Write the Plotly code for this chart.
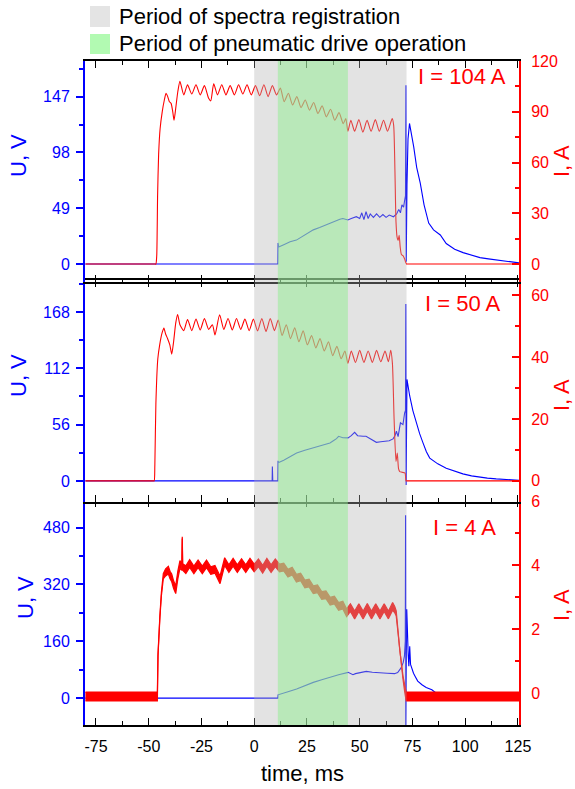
import plotly.graph_objects as go

FONT = "Liberation Sans, Arial, sans-serif"
BLUE = "#0000ff"
RED = "#ff0000"

# ---------------- data ----------------
x_range = [-80.2, 125.5]
x_tickvals = [-75, -50, -25, 0, 25, 50, 75, 100, 125]
x_ticktext = ["-75", "-50", "-25", "0", "25", "50", "75", "100", "125"]

spectra_period = [0, 72.2]      # grey band, ms
drive_period = [11.2, 44.4]     # green band, ms

legend_labels = ["Period of spectra registration", "Period of pneumatic drive operation"]
panel_labels = ["I = 104 A", "I = 50 A", "I = 4 A"]

# Panel 1 (I = 104 A)
t1_U = [-80, 11.2, 11.3, 11.6, 14, 17, 20, 23, 26, 28, 31, 34, 36, 38, 40.6, 42, 44.4, 46, 48.4,
        50, 51, 52, 53, 54, 55, 56.5, 58, 59.5, 61, 62.5, 64, 66, 67.5, 68.5, 69.3, 70, 70.8,
        71.3, 71.7, 71.9, 72.05, 72.4, 72.9, 73.6, 74.5, 75.6, 77, 78.7, 80.5, 82.7, 85, 88.2,
        91, 95, 99, 103, 107, 111, 115, 120, 125.5]
U1 = [0, 0, 18.5, 15, 17, 19.5, 21, 24.5, 28, 30, 32, 34.5, 36, 37.5, 39.3, 40, 38.7, 40, 41.6,
      40, 45, 39, 46, 40, 44, 41, 44, 41, 43.5, 41, 43, 41.5, 44, 48, 45, 52, 50,
      56, 60, 157, 2, 70, 110, 123.5, 115, 103, 85, 71, 52, 36, 30, 25.5,
      18, 13, 10, 7.5, 5.6, 4.5, 3.5, 2, 1]
t1_I = [-80, -47.0, -46.6, -46.2, -45.8, -45.3, -44.6, -43.6, -42.6, -41.8, -41, -40.2, -39.4,
        -38.6, -38, -37.2, -36.2, -35.2, -33.4, -31.6, -29.6, -27.6, -25.6, -23.6, -21.6, -20.6,
        -19.2, -17.4, -15.4, -13.4, -11.4, -9.4, -7.4, -5.4, -3.4, -1.4, 0.6, 2.6, 4.6, 6.6, 8.6,
        10.6, 12.4, 14.2, 16.2, 18.2, 20.2, 22.2, 24.2, 26.2, 28.2, 30.2, 32.2, 34.2, 36.2, 38.2,
        40.2, 42.2, 43.4, 44.4, 45.8, 47.6, 49.6, 51.5, 53.5, 55.4, 57.4, 59.3, 61.3, 63.2, 65.4,
        66.1, 66.7, 67.2, 67.7, 68.2, 68.7, 69.2, 69.8, 70.5, 71.3, 71.8, 72.2, 72.6, 125.5]
I1 = [0, 0, 0, 5, 40, 65, 80, 90, 97, 101, 99, 96, 95,
      90, 85, 92, 102, 108, 100, 106, 100.5, 106, 100, 105.5, 98, 96.5,
      106.5, 100, 106, 100, 105.5, 100, 106, 100.5, 106, 100, 105.5, 99.5, 106, 99, 105.5,
      100, 104, 96, 101, 94, 99, 92.5, 97, 91, 95.5, 89, 93.5, 87, 91.5, 85,
      89.5, 83, 86, 78.5, 85, 78.5, 85.5, 78, 85, 78.5, 85.5, 78.5, 85, 78.5, 86,
      82, 55, 25, 16, 14, 17, 10, 5.5, 5, 3, 1, 0, 0, 0]

# Panel 2 (I = 50 A)
t2_U = [-80, 8.5, 8.6, 8.8, 11.2, 11.3, 11.6, 14, 17, 20.1, 24, 28, 32, 35.9, 37.5, 39, 40, 42,
        44.5, 46, 47.6, 49, 51.6, 53, 55, 57.9, 60, 62.6, 64, 65.8, 66.7, 67.4, 68.2, 69.3, 70.5,
        71.3, 71.7, 71.85, 72.0, 72.4, 73, 73.7, 75.2, 76.8, 78.4, 80, 81.6, 83.2, 87, 91, 95,
        98.9, 103, 106.8, 110.5, 114.7, 119, 125.5]
U2 = [0, 0, 14.3, 0, 0, 20, 18.3, 20.5, 24, 27.7, 30.5, 32.7, 35.5, 37.8, 40, 42, 44.4, 43,
      42.8, 45, 48.4, 45, 44.4, 44.5, 42, 38.4, 39, 39.4, 40, 41.8, 45, 49.4, 44, 57.8, 56,
      67.8, 70, 176, -4, 101, 92, 84.5, 70, 57.8, 47, 37.8, 29, 22.7, 17, 12.7, 9.5,
      7, 5, 3.7, 2.8, 2, 1.2, 0.6]
t2_I = [-80, -47.8, -47.4, -47.1, -46.6, -45.7, -44.8, -43.6, -42.8, -42, -41, -40, -39.1, -38.2,
        -37.2, -36.3, -35.2, -33.4, -31.6, -29.6, -27.6, -25.6, -23.6, -21.6, -19.8, -18.6, -16.4,
        -14.4, -12.4, -10.4, -8.4, -6.4, -4.4, -2.4, -0.4, 1.6, 3.6, 5.6, 7.6, 9.6, 11.4, 13.2,
        15.2, 17.2, 19.2, 21.2, 23.2, 25.2, 27.2, 29.2, 31.2, 33.2, 35.2, 37.2, 39.2, 41.2, 43,
        44.4, 46, 48, 50, 52, 54, 56, 58, 60, 62, 63.6, 64.7, 65.5, 66.3, 67.2, 67.8, 68.4, 69,
        70, 71.5, 71.9, 72.3, 125.5]
I2 = [0, 0, 0, 5, 25, 39.4, 44, 48, 49.4, 47.5, 45.9, 44, 41, 45,
      51, 53.8, 50.5, 48.6, 52.2, 48.6, 52.3, 48.8, 52.5, 49, 50.5, 47.2, 53.7,
      49, 52.5, 48.8, 52.5, 49, 52.3, 48.6, 52.3, 48.5, 52.5, 48.3, 52.5, 48.6, 52, 47,
      50.5, 46, 49.5, 45, 48.5, 44, 47, 43, 46, 42, 45, 40.5, 43.5, 39.5, 42,
      38, 42, 38.3, 42.2, 38.3, 42, 38.3, 42.2, 38.5, 42, 38.5, 42.2, 38, 20, 6.3, 9, 4, 3,
      2.8, 2.5, 0, 0, 0]

# Panel 3 (I = 4 A)
t3_U = [-80, 11.2, 11.3, 12.2, 16, 20.1, 24, 28, 32, 35.9, 40, 44.5, 45.5, 46.8, 48, 50, 53.1,
        56, 59.4, 63, 66.5, 68, 69.6, 70.6, 71.2, 71.6, 71.75, 71.85, 72.0, 72.3, 72.6, 73.0,
        73.3, 73.7, 74.1, 74.8, 75.5, 76.3, 77.5, 79.5, 81.5, 84.2, 86, 88.9, 92, 96, 125.5]
U3 = [0, 0, 9.4, 11.3, 18, 25.5, 35, 44.3, 52, 59.5, 66, 72.6, 70, 66, 69, 72, 75.4,
      73, 70.9, 70, 68.9, 72, 85, 100, 118, 160, 515, -90, 40, 250, 165, 120,
      89.6, 146, 95, 80, 70, 61, 48, 37.7, 30, 23.5, 15, 8, 3, 1, 0]
t3_I = [-80, -45.9, -45.6, -45.2, -44.7, -44, -43.1, -42, -40.7, -39.9, -39.1, -38.2, -37.2, -36.2,
        -35.2, -34.3, -34.1, -33.9, -32.4, -30.6, -28.6, -26.6, -24.6, -22.6, -20.6, -18.6, -16.2,
        -14, -12, -10, -8, -6, -4, -2, 0, 2, 4, 6, 8, 10, 12, 14, 16, 18, 20, 22, 24, 26, 28,
        30, 32, 34, 36, 38, 40, 42, 43.8, 45.6, 47.6, 49.6, 51.6, 53.6, 55.6, 57.6, 59.6, 61.6,
        63.6, 65.6, 66.6, 67.3, 69, 70.5, 71.2, 72, 125.5]
I3 = [-0.1, -0.1, 1.2, 2.0, 2.4, 3.1, 3.66, 3.78, 3.85, 3.7, 3.61, 3.4, 3.24, 3.7,
      4.03, 3.95, 4.87, 3.95, 3.87, 4.06, 3.86, 4.05, 3.86, 4.05, 3.84, 3.88, 3.55,
      4.12, 3.9, 4.1, 3.9, 4.09, 3.9, 4.1, 3.92, 4.08, 3.88, 4.1, 3.9, 4.08, 3.92, 3.95, 3.76,
      3.82, 3.6, 3.64, 3.42, 3.45, 3.24, 3.27, 3.06, 3.08, 2.88, 2.92, 2.72, 2.76, 2.52, 2.68,
      2.45, 2.68, 2.45, 2.69, 2.45, 2.68, 2.45, 2.68, 2.45, 2.72, 2.62, 2.5, 1.3, 0.5, 0.19, -0.1,
      -0.1]
I3_noise = [0.14, 0.14, 0.03, 0.03, 0.04, 0.05, 0.08, 0.11, 0.12, 0.12, 0.12, 0.12, 0.12, 0.12,
            0.12, 0.1, 0.03, 0.1, 0.12, 0.12, 0.12, 0.12, 0.12, 0.12, 0.12, 0.12, 0.12,
            0.12, 0.12, 0.12, 0.12, 0.12, 0.12, 0.12, 0.12, 0.12, 0.12, 0.12, 0.12, 0.12, 0.12,
            0.12, 0.12, 0.12, 0.12, 0.12, 0.12, 0.12, 0.12, 0.12, 0.12, 0.12, 0.12, 0.12, 0.12,
            0.12, 0.12, 0.12, 0.12, 0.12, 0.12, 0.12, 0.12, 0.12, 0.12, 0.12, 0.12, 0.12, 0.1,
            0.08, 0.05, 0.05, 0.08, 0.14, 0.14]

U_ticks = [[0, 49, 98, 147], [0, 56, 112, 168], [0, 160, 320, 480]]
U_minor = [24.5, 28, 80]
U_ranges = [[-15.8, 178.4], [-21.0, 199.4], [-75.7, 556.5]]
I_ticks = [[0, 30, 60, 90, 120], [0, 20, 40, 60], [0, 2, 4, 6]]
I_minor = [15, 10, 1]
I_ranges = [[-10.6, 120.05], [-6.84, 64.8], [-0.99, 6.03]]

# ---------------- figure ----------------
W, H = 575, 789
ML, MR, MT, MB = 85, 56, 61, 64
PW, PH = W - ML - MR, H - MT - MB
XLW = 1.5  # frame line width of the time axes


def px(xp):
    return (xp - ML) / PW


def py(yp):
    return (H - MB - yp) / PH


ov = XLW / PH  # overlap so the shared frame lines of adjacent panels coincide
domains = [[0.6672, 1.0], [0.3358, 0.6672 + ov], [0.0, 0.3358 + ov]]
names = [("x3", "y5", "y6"), ("x2", "y3", "y4"), ("x", "y", "y2")]

fig = go.Figure()
series = [(t1_U, U1, t1_I, I1), (t2_U, U2, t2_I, I2)]
for k, (tu, u, ti, i) in enumerate(series):
    xa, yl, yr = names[k]
    fig.add_trace(go.Scatter(x=tu, y=u, mode="lines", line=dict(color=BLUE, width=1.1),
                             xaxis=xa, yaxis=yl, showlegend=False))
    fig.add_trace(go.Scatter(x=ti, y=i, mode="lines",
                             line=dict(color=RED, width=1.1, shape="spline", smoothing=0.6),
                             xaxis=xa, yaxis=yr, showlegend=False))

# panel 3: blue U, red I drawn as a noisy band
xa, yl, yr = names[2]
fig.add_trace(go.Scatter(x=t3_U, y=U3, mode="lines", line=dict(color=BLUE, width=1.1),
                         xaxis=xa, yaxis=yl, showlegend=False))
I3_lo = [a - b for a, b in zip(I3, I3_noise)]
I3_hi = [a + b for a, b in zip(I3, I3_noise)]
fig.add_trace(go.Scatter(x=t3_I, y=I3_lo, mode="lines", line=dict(color=RED, width=1.2),
                         xaxis=xa, yaxis=yr, showlegend=False))
fig.add_trace(go.Scatter(x=t3_I, y=I3_hi, mode="lines", line=dict(color=RED, width=1.2),
                         fill="tonexty", fillcolor=RED, xaxis=xa, yaxis=yr, showlegend=False))

layout = dict(width=W, height=H, margin=dict(l=ML, r=MR, t=MT, b=MB),
              paper_bgcolor="white", plot_bgcolor="white", showlegend=False,
              font=dict(family=FONT, size=16, color="black"))

for k in range(3):
    xa, yl, yr = names[k]
    xkey = "xaxis" if xa == "x" else "xaxis" + xa[1:]
    ylkey = "yaxis" if yl == "y" else "yaxis" + yl[1:]
    yrkey = "yaxis" + yr[1:]
    layout[xkey] = dict(domain=[0, 1], range=x_range, anchor=yl, showline=True, linecolor="black",
                        linewidth=XLW, mirror="ticks", ticks="inside", ticklen=7, tickwidth=1.3,
                        tickcolor="black", tickmode="array", tickvals=x_tickvals, ticktext=x_ticktext,
                        showticklabels=(k == 2), showgrid=False, zeroline=False,
                        tickfont=dict(size=16, color="black", family=FONT), ticklabelstandoff=6,
                        minor=dict(tickmode="linear", tick0=0, dtick=12.5, ticks="inside", ticklen=4,
                                   tickwidth=1.3, tickcolor="black", showgrid=False))
    layout[ylkey] = dict(domain=domains[k], range=U_ranges[k], anchor=xa, showline=True,
                         linecolor=BLUE, linewidth=2, ticks="outside", ticklen=7, tickwidth=1.5,
                         tickcolor=BLUE, tickmode="array", tickvals=U_ticks[k], showgrid=False,
                         zeroline=False, tickfont=dict(size=16, color=BLUE, family=FONT),
                         ticklabelstandoff=3,
                         minor=dict(tickmode="linear", tick0=0, dtick=U_minor[k], ticks="outside",
                                    ticklen=4, tickwidth=1.5, tickcolor=BLUE, showgrid=False))
    layout[yrkey] = dict(range=I_ranges[k], anchor=xa, overlaying=yl, side="right", showline=True,
                         linecolor=RED, linewidth=2, ticks="inside", ticklen=7, tickwidth=1.5,
                         tickcolor=RED, tickmode="array", tickvals=I_ticks[k], showgrid=False,
                         zeroline=False, tickfont=dict(size=16, color=RED, family=FONT),
                         ticklabelstandoff=7,
                         minor=dict(tickmode="linear", tick0=0, dtick=I_minor[k], ticks="inside",
                                    ticklen=4, tickwidth=1.5, tickcolor=RED, showgrid=False))

fig.update_layout(**layout)

shapes = [
    dict(type="rect", xref="x", yref="paper", x0=spectra_period[0], x1=spectra_period[1], y0=0, y1=1,
         fillcolor="rgb(180,180,180)", opacity=0.37, line=dict(width=0), layer="above"),
    dict(type="rect", xref="x", yref="paper", x0=drive_period[0], x1=drive_period[1], y0=0, y1=1,
         fillcolor="rgb(144,238,144)", opacity=0.5, line=dict(width=0), layer="above"),
    # legend swatches
    dict(type="rect", xref="paper", yref="paper", x0=px(90), x1=px(110), y0=py(27), y1=py(6),
         fillcolor="rgb(228,228,228)", line=dict(width=0)),
    dict(type="rect", xref="paper", yref="paper", x0=px(90), x1=px(110), y0=py(54), y1=py(34),
         fillcolor="rgb(178,250,178)", line=dict(width=0)),
]

ann = []
ann.append(dict(text=legend_labels[0], x=px(117), y=py(16.5), xref="paper", yref="paper",
                xanchor="left", yanchor="middle", showarrow=False, font=dict(size=22, color="black")))
ann.append(dict(text=legend_labels[1], x=px(117), y=py(44), xref="paper", yref="paper",
                xanchor="left", yanchor="middle", showarrow=False, font=dict(size=22, color="black")))
label_pos = [(508, 77), (503, 303), (498, 527)]
for k in range(3):
    ann.append(dict(text=panel_labels[k], x=px(label_pos[k][0]), y=py(label_pos[k][1]), xref="paper",
                    yref="paper", xanchor="right", yanchor="middle", showarrow=False,
                    font=dict(size=22, color=RED)))
u_title_pos = [(18, 156), (18, 376), (25, 597)]
i_title_pos = [(561, 161), (561, 395), (561, 605)]
for k in range(3):
    ann.append(dict(text="U, V", x=px(u_title_pos[k][0]), y=py(u_title_pos[k][1]), xref="paper",
                    yref="paper", xanchor="center", yanchor="middle", textangle=-90, showarrow=False,
                    font=dict(size=22, color=BLUE)))
    ann.append(dict(text="I, A", x=px(i_title_pos[k][0]), y=py(i_title_pos[k][1]), xref="paper",
                    yref="paper", xanchor="center", yanchor="middle", textangle=-90, showarrow=False,
                    font=dict(size=22, color=RED)))
ann.append(dict(text="time, ms", x=0.5, y=py(773), xref="paper", yref="paper", xanchor="center",
                yanchor="middle", showarrow=False, font=dict(size=22, color="black")))

fig.update_layout(shapes=shapes, annotations=ann)
fig.write_html("out.html")
